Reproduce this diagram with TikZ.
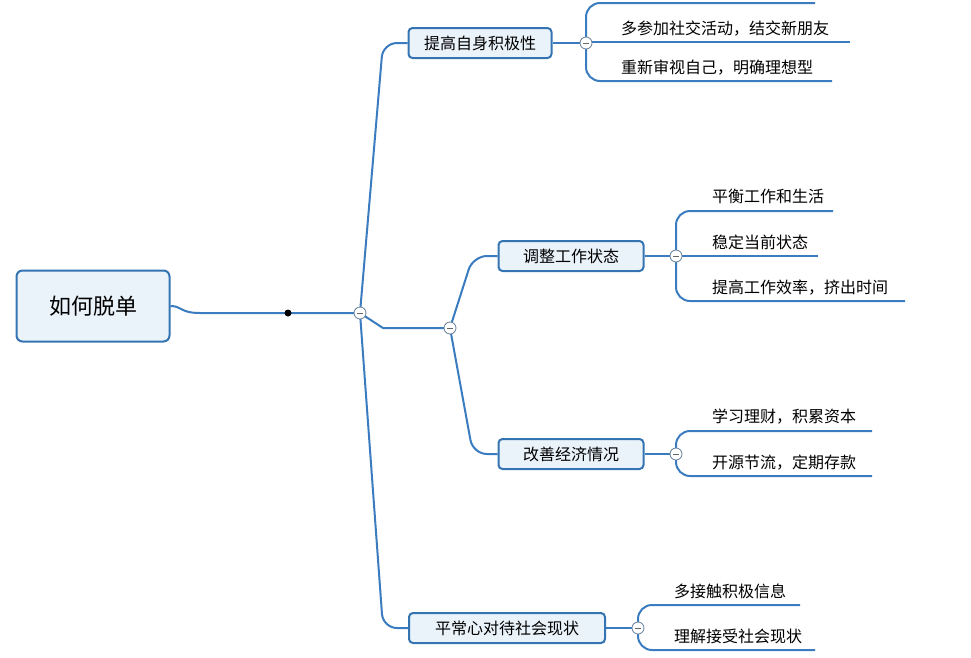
\documentclass[tikz,border=0pt]{standalone}
\usepackage{fontspec}
\setmainfont{Noto Sans CJK SC}
\begin{document}
\begin{tikzpicture}[x=1pt,y=-1pt,
  ln/.style={draw=lineblue,line width=2pt},
  rc/.style={ln,rounded corners=14pt},
  topic/.style={draw=boxblue,fill=boxfill,line width=2pt,rounded corners=4pt,minimum height=30pt,inner xsep=6pt,font=\fontsize{16}{18}\selectfont},
  leaf/.style={anchor=south west,inner sep=0pt,font=\fontsize{16}{18}\selectfont},
  col/.style={circle,draw=gray!60!lineblue,fill=white,line width=0.8pt,minimum size=12pt,inner sep=0pt}]
\definecolor{lineblue}{HTML}{3A7CBF}
\definecolor{boxblue}{HTML}{3574B2}
\definecolor{boxfill}{HTML}{EAF2FA}
\useasboundingbox (0,0) rectangle (971,657);
% root
\node[draw=boxblue,fill=boxfill,line width=2pt,rounded corners=6pt,minimum width=153pt,minimum height=71pt,font=\fontsize{22}{26}\selectfont] (root) at (93,306) {如何脱单};
\node[topic,minimum width=143pt] (t1) at (480,43) {提高自身积极性};
\node[topic,minimum width=145pt] (t2) at (571,256) {调整工作状态};
\node[topic,minimum width=145pt] (t3) at (571,454) {改善经济情况};
\node[topic,minimum width=196pt] (t4) at (507,628) {平常心对待社会现状};
\coordinate (c1p) at (360,313);
\coordinate (c2p) at (450,328);
% trunk
\draw[ln] (root.east) .. controls (182,306) and (180,313) .. (200,313) -- (c1p);
\fill (288,313) circle (3.5pt);
\draw[rc] (c1p) -- (383,43) -- (t1.west);
\draw[rc] (c1p) -- (383,628) -- (t4.west);
\draw[ln] (c1p) -- (383,328) -- (c2p);
\draw[rc] (c2p) -- (473,256) -- (t2.west);
\draw[rc] (c2p) -- (473,454) -- (t3.west);
% group 1
\draw[ln] (t1.east) -- (586,43);
\draw[rc] (815,3) -- (586,3) -- (586,81) -- (832,81);
\draw[ln] (586,42) -- (850,42);
\node[leaf] (l11) at (621,36) {多参加社交活动，结交新朋友};
\node[leaf] (l12) at (621,75) {重新审视自己，明确理想型};
% group 2
\draw[ln] (t2.east) -- (676,256);
\draw[rc] (833,211) -- (676,211) -- (676,301) -- (905,301);
\draw[ln] (676,256) -- (818,256);
\node[leaf] (l21) at (712,204) {平衡工作和生活};
\node[leaf] (l22) at (712,250) {稳定当前状态};
\node[leaf] (l23) at (712,295) {提高工作效率，挤出时间};
% group 3
\draw[ln] (t3.east) -- (676,454);
\draw[rc] (872,431) -- (676,431) -- (676,476) -- (872,476);
\node[leaf] (l31) at (712,424) {学习理财，积累资本};
\node[leaf] (l32) at (712,470) {开源节流，定期存款};
% group 4
\draw[ln] (t4.east) -- (638,628);
\draw[rc] (800,605) -- (638,605) -- (638,650) -- (815,650);
\node[leaf] (l41) at (674,599) {多接触积极信息};
\node[leaf] (l42) at (674,644) {理解接受社会现状};
% collapse circles
\foreach \p in {(360,313),(450,328),(586,43),(676,256),(676,454),(638,628)}{
  \node[col] (cc) at \p {};
  \draw[line width=0.9pt,draw=gray!80!black] ([xshift=-3pt]cc.center) -- ([xshift=3pt]cc.center);}
\end{tikzpicture}
\end{document}
